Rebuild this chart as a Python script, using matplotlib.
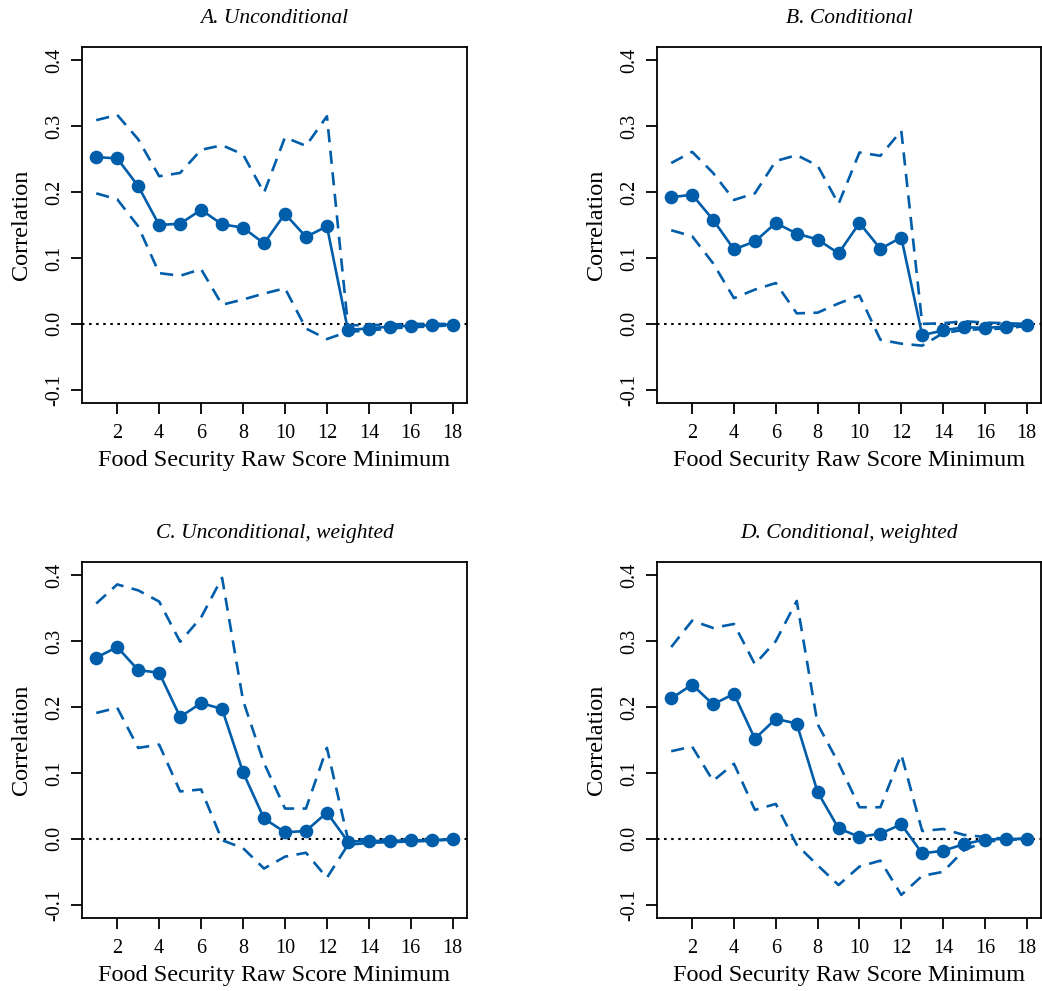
import numpy as np
import matplotlib
matplotlib.use("Agg")
from matplotlib import pyplot as plt

plt.rcParams['font.family'] = ['Liberation Serif', 'DejaVu Serif']

x = np.arange(1, 19)

# A. Unconditional
a_est = [0.253, 0.251, 0.209, 0.150, 0.152, 0.173, 0.151, 0.146, 0.122,
         0.167, 0.132, 0.148, -0.009, -0.007, -0.004, -0.003, -0.002, -0.001]
a_hi = [0.309, 0.317, 0.280, 0.224, 0.229, 0.264, 0.271, 0.257, 0.199,
        0.283, 0.270, 0.315, -0.002, -0.002, -0.001, 0.000, 0.000, 0.000]
a_lo = [0.198, 0.189, 0.148, 0.077, 0.073, 0.083, 0.029, 0.037, 0.046,
        0.054, -0.007, -0.023, -0.012, -0.010, -0.007, -0.005, -0.004, -0.002]

# B. Conditional
b_est = [0.192, 0.196, 0.158, 0.113, 0.125, 0.153, 0.137, 0.128, 0.107,
         0.153, 0.114, 0.131, -0.017, -0.010, -0.005, -0.006, -0.004, -0.002]
b_hi = [0.244, 0.261, 0.229, 0.188, 0.198, 0.247, 0.256, 0.240, 0.182,
        0.260, 0.255, 0.293, 0.000, 0.001, 0.004, 0.002, 0.001, 0.000]
b_lo = [0.142, 0.133, 0.092, 0.039, 0.052, 0.062, 0.016, 0.017, 0.031,
        0.043, -0.024, -0.030, -0.033, -0.014, -0.009, -0.008, -0.007, -0.003]

# C. Unconditional, weighted
c_est = [0.275, 0.291, 0.256, 0.252, 0.185, 0.206, 0.197, 0.101, 0.031,
         0.010, 0.012, 0.040, -0.004, -0.003, -0.003, -0.002, -0.002, 0.000]
c_hi = [0.357, 0.386, 0.377, 0.360, 0.299, 0.336, 0.396, 0.210, 0.115,
        0.046, 0.046, 0.138, 0.000, -0.001, -0.001, 0.000, 0.000, 0.000]
c_lo = [0.191, 0.199, 0.138, 0.143, 0.072, 0.075, -0.002, -0.014, -0.045,
        -0.027, -0.021, -0.059, -0.009, -0.006, -0.005, -0.004, -0.003, -0.001]

# D. Conditional, weighted
d_est = [0.213, 0.234, 0.204, 0.220, 0.152, 0.182, 0.175, 0.071, 0.016,
         0.003, 0.008, 0.022, -0.022, -0.018, -0.008, -0.001, 0.000, 0.000]
d_hi = [0.291, 0.331, 0.320, 0.326, 0.265, 0.300, 0.361, 0.174, 0.115,
        0.048, 0.048, 0.128, 0.012, 0.015, 0.006, 0.003, 0.000, 0.000]
d_lo = [0.133, 0.140, 0.088, 0.114, 0.044, 0.053, -0.009, -0.040, -0.070,
        -0.042, -0.033, -0.085, -0.056, -0.050, -0.017, -0.004, -0.002, 0.000]

titles = ["A. Unconditional", "B. Conditional",
          "C. Unconditional, weighted", "D. Conditional, weighted"]
panels = [(a_est, a_hi, a_lo), (b_est, b_hi, b_lo),
          (c_est, c_hi, c_lo), (d_est, d_hi, d_lo)]

W, H = 1042, 991
fig = plt.figure(figsize=(W / 100, H / 100), dpi=100)

# axes boxes in pixels: left, top, right, bottom
boxes = [(82, 47, 467, 403), (657, 47, 1041, 403),
         (82, 562, 467, 918), (657, 562, 1041, 918)]

col = "#005DAA"

for box, t, (est, hi, lo) in zip(boxes, titles, panels):
    l, tp, r, b = box
    ax = fig.add_axes([l / W, 1 - b / H, (r - l) / W, (b - tp) / H])
    ax.axhline(0, color="black", linestyle=(0, (1.2, 2.2)), linewidth=1.5, zorder=1)
    ax.plot(x, hi, color=col, linestyle=(0, (5.0, 3.2)), linewidth=1.9)
    ax.plot(x, lo, color=col, linestyle=(0, (5.0, 3.2)), linewidth=1.9)
    ax.plot(x, est, color=col, linewidth=1.9, marker="o", markersize=8.8)
    ax.set_xlim(0.32, 18.68)
    ax.set_ylim(-0.12, 0.42)
    ax.set_xticks(np.arange(2, 19, 2))
    ax.set_yticks([-0.1, 0.0, 0.1, 0.2, 0.3, 0.4])
    ax.set_yticklabels(["-0.1", "0.0", "0.1", "0.2", "0.3", "0.4"],
                       rotation=90, va="center")
    ax.tick_params(axis="x", pad=7)
    ax.tick_params(direction="out", length=8, width=1.3, labelsize=14.5)
    ax.tick_params(axis="y", pad=5)
    for s in ax.spines.values():
        s.set_linewidth(1.3)
    ax.set_xlabel("Food Security Raw Score Minimum", fontsize=17.5, labelpad=5)
    ax.set_ylabel("Correlation", fontsize=17.5, labelpad=9)
    ax.set_title(t, fontsize=15.5, style="italic", pad=17)

fig.savefig("out.png", dpi=100)
